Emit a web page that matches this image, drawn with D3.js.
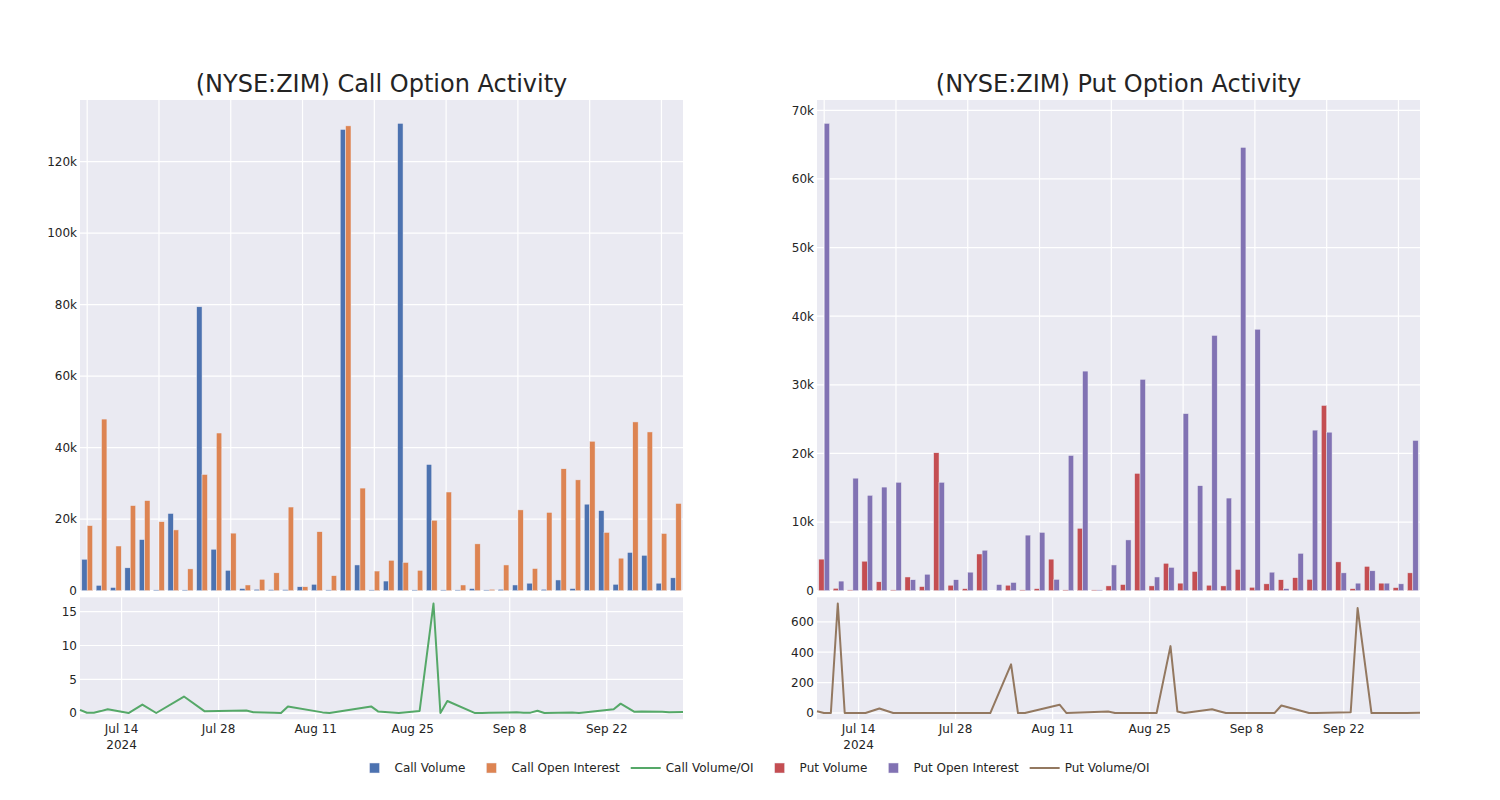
<!DOCTYPE html>
<html><head><meta charset="utf-8">
<script src="https://cdn.jsdelivr.net/npm/d3@7"></script>
<style>body{margin:0;background:#fff}text{font-family:"DejaVu Sans",sans-serif}</style>
</head><body>
<svg id="chart" width="1500" height="800"></svg>
<script>
// ---------------- data ----------------
const dates = ["2024-07-08","2024-07-09","2024-07-10","2024-07-11","2024-07-12","2024-07-15","2024-07-17","2024-07-19","2024-07-23","2024-07-26","2024-07-30","2024-08-01","2024-08-02","2024-08-05","2024-08-06","2024-08-07","2024-08-12","2024-08-13","2024-08-19","2024-08-20","2024-08-23","2024-08-26","2024-08-28","2024-08-29","2024-08-30","2024-09-03","2024-09-04","2024-09-05","2024-09-09","2024-09-10","2024-09-11","2024-09-12","2024-09-13","2024-09-17","2024-09-18","2024-09-23","2024-09-24","2024-09-26","2024-09-27","2024-09-30","2024-10-01","2024-10-03"];
const callVolume = [8800,1500,900,6400,14300,200,21600,100,79400,11600,5700,600,400,300,300,1100,1800,100,129000,7200,100,2700,130700,100,35300,100,50,600,50,400,1600,2100,400,3000,600,24200,22400,1800,10700,9900,2100,3600];
const callOI = [18200,48000,12500,23800,25200,19300,17000,6100,32500,44100,16100,1600,3200,5000,23400,1100,16500,4200,130000,28700,5500,8500,7900,5700,19700,27600,1600,13100,400,7200,22600,6200,21900,34100,31000,41800,16300,9100,47200,44400,16000,24400];
const callRatio = [0.49,0.05,0.07,0.3,0.58,0.01,1.27,0.02,2.45,0.26,0.35,0.38,0.12,0.06,0.01,0.99,0.11,0.02,0.99,0.25,0.02,0.32,16.2,0.02,1.79,0.01,0.03,0.05,0.12,0.06,0.07,0.34,0.02,0.09,0.02,0.58,1.4,0.2,0.23,0.22,0.13,0.15];
const putVolume = [4600,350,100,4300,1300,50,2000,600,20100,800,300,5350,0,800,50,300,4600,100,9100,50,700,900,17100,700,4000,1100,2800,800,700,3100,500,1000,1600,1900,1650,27000,4200,300,3550,1100,450,2600];
const putOI = [68100,1400,16400,13900,15100,15800,1600,2400,15800,1600,2700,5900,900,1200,8100,8500,1650,19700,32000,50,3750,7400,30800,2000,3400,25800,15300,37200,13500,64600,38100,2700,300,5450,23400,23100,2600,1100,2900,1100,1000,21900];
const putRatio = [12,0,0,720,0,0,30,0,0,0,0,0,0,320,0,0,55,0,10,0,0,0,440,10,0,25,12,0,0,0,0,0,50,0,1,5,690,0,0,0,0,2];

const callBarTicks = [0,20000,40000,60000,80000,100000,120000];
const putBarTicks = [0,10000,20000,30000,40000,50000,60000,70000];
const callRatioTicks = [0,5,10,15];
const putRatioTicks = [0,200,400,600];
const dateTicks = ["2024-07-14","2024-07-28","2024-08-11","2024-08-25","2024-09-08","2024-09-22"];
const titles = ["(NYSE:ZIM) Call Option Activity","(NYSE:ZIM) Put Option Activity"];
const legendLabels = ["Call Volume","Call Open Interest","Call Volume/OI","Put Volume","Put Open Interest","Put Volume/OI"];
const legendKinds = ["bar","bar","line","bar","bar","line"];

// ---------------- style/layout ----------------
const colors = {callVol:"#4C72B0", callOI:"#DD8452", callLine:"#55A868", putVol:"#C44E52", putOI:"#8172B3", putLine:"#937860"};
const legendColors = [colors.callVol, colors.callOI, colors.callLine, colors.putVol, colors.putOI, colors.putLine];
const BG = "#EAEAF2", TXT = "#242424";
const topY0 = 100, topY1 = 590.7, botY0 = 597.3, botY1 = 719.3;
const parseD = d3.timeParse("%Y-%m-%d");
const dateObjs = dates.map(parseD);

const svg = d3.select("#chart");

function panel(x0, x1, title, vol, oi, ratio, barTicks, ratioTicks, cVol, cOI, cLine) {
  const g = svg.append("g");
  // backgrounds
  g.append("rect").attr("x", x0).attr("y", topY0).attr("width", x1 - x0).attr("height", topY1 - topY0).attr("fill", BG);
  g.append("rect").attr("x", x0).attr("y", botY0).attr("width", x1 - x0).attr("height", botY1 - botY0).attr("fill", BG);

  // top scales
  const idx = d3.range(dates.length);
  const xb = d3.scaleBand().domain(idx).range([x0, x1]).paddingInner(0).paddingOuter(0);
  const bw = xb.bandwidth();
  const xs = d3.scaleBand().domain(["v","o"]).range([bw * 0.125, bw * 0.875]);
  const maxV = d3.max([...vol, ...oi]);
  const yT = d3.scaleLinear().domain([0, maxV * 1.05]).range([topY1, topY0]);

  // top gridlines
  g.selectAll(null).data(barTicks).join("line")
    .attr("x1", x0).attr("x2", x1).attr("y1", d => yT(d)).attr("y2", d => yT(d))
    .attr("stroke", "#fff").attr("stroke-width", 1.2);
  g.selectAll(null).data(idx.filter(i => i % 5 === 0)).join("line")
    .attr("x1", d => xb(d) + bw / 2).attr("x2", d => xb(d) + bw / 2).attr("y1", topY0).attr("y2", topY1)
    .attr("stroke", "#fff").attr("stroke-width", 1.2);
  g.selectAll(null).data(barTicks).join("text")
    .attr("x", x0 - 3).attr("y", d => yT(d) + 4.3).attr("text-anchor", "end")
    .attr("font-size", 12).attr("fill", TXT).text(d => d === 0 ? "0" : d3.format("~s")(d));

  // bars
  const barG = g.append("g");
  barG.selectAll(null).data(idx).join("rect")
    .attr("x", i => xb(i) + xs("v")).attr("width", xs.bandwidth())
    .attr("y", i => Math.min(yT(vol[i]), yT(0) - 0.8)).attr("height", i => Math.max(yT(0) - yT(vol[i]), 0.8))
    .attr("fill", cVol).attr("stroke", BG).attr("stroke-width", 0.5)
    .attr("opacity", i => vol[i] > 0 ? 1 : 0);
  barG.selectAll(null).data(idx).join("rect")
    .attr("x", i => xb(i) + xs("o")).attr("width", xs.bandwidth())
    .attr("y", i => Math.min(yT(oi[i]), yT(0) - 0.8)).attr("height", i => Math.max(yT(0) - yT(oi[i]), 0.8))
    .attr("fill", cOI).attr("stroke", BG).attr("stroke-width", 0.5)
    .attr("opacity", i => oi[i] > 0 ? 1 : 0);

  // bottom scales
  const xt = d3.scaleTime().domain(d3.extent(dateObjs)).range([x0, x1]);
  const rMax = d3.max(ratio), rMin = d3.min(ratio);
  const pad = (rMax - rMin) * 0.057;
  const yB = d3.scaleLinear().domain([rMin - pad, rMax + pad]).range([botY1, botY0]);

  g.selectAll(null).data(ratioTicks).join("line")
    .attr("x1", x0).attr("x2", x1).attr("y1", d => yB(d)).attr("y2", d => yB(d))
    .attr("stroke", "#fff").attr("stroke-width", d => d === 0 ? 1.6 : 1.2);
  g.selectAll(null).data(dateTicks.map(parseD)).join("line")
    .attr("x1", d => xt(d)).attr("x2", d => xt(d)).attr("y1", botY0).attr("y2", botY1)
    .attr("stroke", "#fff").attr("stroke-width", 1.2);
  g.selectAll(null).data(ratioTicks).join("text")
    .attr("x", x0 - 3).attr("y", d => yB(d) + 4.3).attr("text-anchor", "end")
    .attr("font-size", 12).attr("fill", TXT).text(d => d3.format("~s")(d));
  const fmt = d3.timeFormat("%b %-d");
  g.selectAll(null).data(dateTicks.map(parseD)).join("text")
    .attr("x", d => xt(d)).attr("y", botY1 + 14).attr("text-anchor", "middle")
    .attr("font-size", 12).attr("fill", TXT).text(d => fmt(d));
  g.append("text").attr("x", xt(parseD(dateTicks[0]))).attr("y", botY1 + 29.5).attr("text-anchor", "middle")
    .attr("font-size", 12).attr("fill", TXT).text(d3.timeFormat("%Y")(parseD(dateTicks[0])));

  // line
  const line = d3.line().x((d, i) => xt(dateObjs[i])).y(d => yB(d));
  g.append("path").datum(ratio).attr("d", line).attr("fill", "none")
    .attr("stroke", cLine).attr("stroke-width", 2).attr("stroke-linejoin", "round");

  // title
  g.append("text").attr("x", (x0 + x1) / 2).attr("y", 92).attr("text-anchor", "middle")
    .attr("font-size", 24).attr("fill", TXT).text(title);
}

panel(80, 683, titles[0], callVolume, callOI, callRatio, callBarTicks, callRatioTicks, colors.callVol, colors.callOI, colors.callLine);
panel(817, 1420, titles[1], putVolume, putOI, putRatio, putBarTicks, putRatioTicks, colors.putVol, colors.putOI, colors.putLine);

// legend
const lg = svg.append("g");
const ly = 768;
let cursor = 0;
const items = [];
legendLabels.forEach((lab, i) => {
  const it = lg.append("g");
  if (legendKinds[i] === "bar") {
    it.append("rect").attr("x", 15).attr("y", ly - 5).attr("width", 10).attr("height", 10)
      .attr("fill", legendColors[i]).attr("stroke", BG).attr("stroke-width", 0.5);
  } else {
    it.append("line").attr("x1", 5).attr("x2", 35).attr("y1", ly).attr("y2", ly)
      .attr("stroke", legendColors[i]).attr("stroke-width", 2);
  }
  const t = it.append("text").attr("x", 40).attr("y", ly + 4.3).attr("font-size", 12).attr("fill", TXT).text(lab);
  const w = t.node().getComputedTextLength();
  items.push({g: it, start: cursor});
  cursor += 40 + w + 6;
});
const total = cursor - 6;
const lx0 = 752 - total / 2;
items.forEach(o => o.g.attr("transform", `translate(${lx0 + o.start},0)`));
</script>
</body></html>
